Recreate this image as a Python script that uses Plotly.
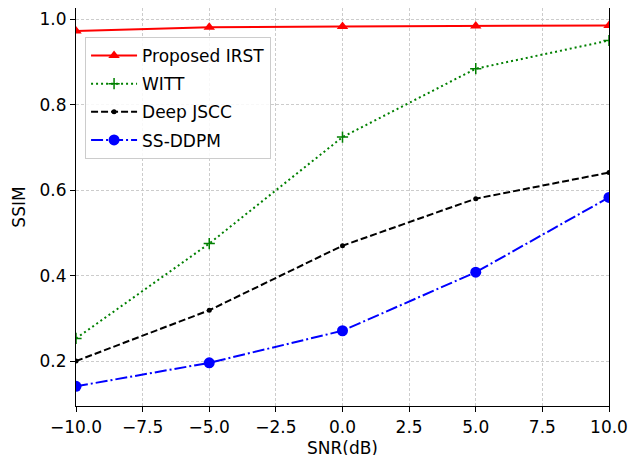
import plotly.graph_objects as go

snr = [-10, -5, 0, 5, 10]
irst = [0.972, 0.981, 0.983, 0.984, 0.985]
witt = [0.253, 0.475, 0.724, 0.884, 0.950]
deep_jscc = [0.200, 0.319, 0.470, 0.580, 0.641]
ss_ddpm = [0.141, 0.196, 0.271, 0.408, 0.583]

x_ticks = [-10, -7.5, -5, -2.5, 0, 2.5, 5, 7.5, 10]
x_tick_text = ["\u221210.0", "\u22127.5", "\u22125.0", "\u22122.5", "0.0", "2.5", "5.0", "7.5", "10.0"]
y_ticks = [0.2, 0.4, 0.6, 0.8, 1.0]

font_family = "DejaVu Sans"
fs = 17

fig = go.Figure()
fig.add_trace(go.Scatter(x=snr, y=irst, name="Proposed IRST", mode="lines+markers", legendgroup="a",
                         line=dict(color="red", width=2, dash="solid"),
                         marker=dict(symbol="triangle-up", size=10, color="red")))
fig.add_trace(go.Scatter(x=snr, y=witt, name="WITT", mode="lines+markers", legendgroup="b",
                         line=dict(color="#008000", width=2, dash="2px,3px"),
                         marker=dict(symbol="cross-thin", size=8, color="#008000",
                                     line=dict(color="#008000", width=1.5))))
fig.add_trace(go.Scatter(x=snr, y=deep_jscc, name="Deep JSCC", mode="lines+markers", legendgroup="c",
                         line=dict(color="black", width=2, dash="7px,3px"),
                         marker=dict(symbol="circle", size=5, color="black")))
fig.add_trace(go.Scatter(x=snr, y=ss_ddpm, name="SS-DDPM", mode="lines+markers", legendgroup="d",
                         line=dict(color="blue", width=2, dash="12px,3px,2px,3px"),
                         marker=dict(symbol="circle", size=11, color="blue")))

axis_common = dict(
    showline=True, linecolor="black", linewidth=1.2, mirror=True,
    ticks="outside", ticklen=5, tickcolor="black", tickwidth=1,
    showgrid=True, gridcolor="#cccccc", gridwidth=0.7, griddash="3px,2px",
    zeroline=False, automargin=False,
    tickfont=dict(size=fs, color="black", family=font_family),
)

fig.update_xaxes(range=[-10, 10], tickvals=x_ticks, ticktext=x_tick_text,
                 title=dict(text="SNR(dB)", font=dict(size=fs, color="black", family=font_family), standoff=6),
                 **axis_common)
fig.update_yaxes(range=[0.095, 1.026], tickvals=y_ticks, ticktext=["0.2", "0.4", "0.6", "0.8", "1.0"],
                 title=dict(text="SSIM", font=dict(size=fs, color="black", family=font_family), standoff=9),
                 **axis_common)

# the page body has an 8px margin, so the figure is offset by 8px right and down
fig.update_layout(
    width=638, height=455,
    margin=dict(l=68, r=37, t=0, b=57),
    paper_bgcolor="white", plot_bgcolor="white",
    font=dict(family=font_family, size=fs, color="black"),
    showlegend=True,
    legend=dict(x=0.017, y=0.927, xanchor="left", yanchor="top",
                bgcolor="rgba(255,255,255,0.85)", bordercolor="#cccccc", borderwidth=1,
                font=dict(size=fs, family=font_family, color="black"), itemwidth=46,
                traceorder="grouped", tracegroupgap=3),
)

fig.write_html("out.html")
